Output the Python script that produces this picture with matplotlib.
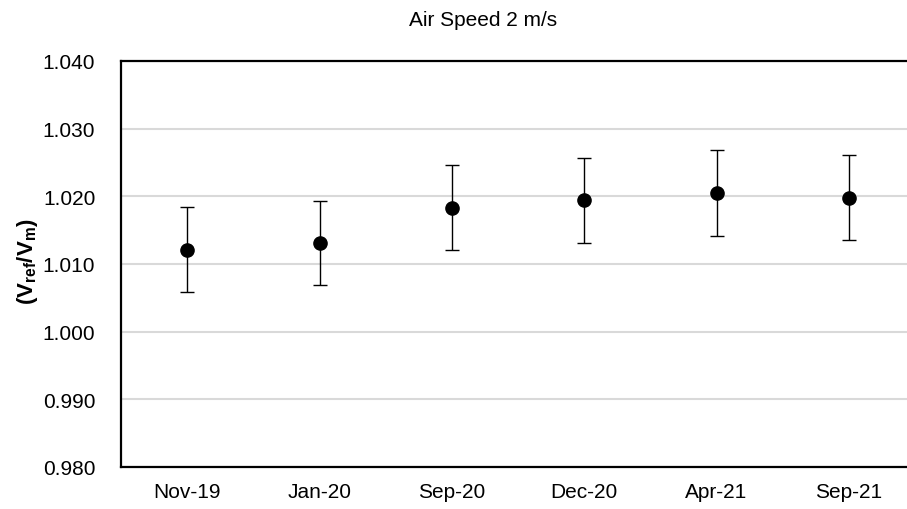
import matplotlib
matplotlib.use('Agg')
import matplotlib.pyplot as plt

plt.rcParams['font.family'] = ['Liberation Sans', 'DejaVu Sans']
plt.rcParams['mathtext.fontset'] = 'custom'
plt.rcParams['mathtext.rm'] = 'Liberation Sans'
plt.rcParams['mathtext.bf'] = 'Liberation Sans:bold'

# data
dates = ['Nov-19', 'Jan-20', 'Sep-20', 'Dec-20', 'Apr-21', 'Sep-21']
ratio = [1.0121, 1.0131, 1.0183, 1.0194, 1.0205, 1.0198]
uncert = [0.0063, 0.0062, 0.0063, 0.0063, 0.0063, 0.0063]
y_ticks = [0.980, 0.990, 1.000, 1.010, 1.020, 1.030, 1.040]

fig = plt.figure(figsize=(9.07, 5.10), dpi=100)
ax = fig.add_axes([121 / 907, 1 - 468 / 510, 794 / 907, 406 / 510])

x = list(range(len(dates)))
ax.errorbar(x, ratio, yerr=uncert, fmt='o', color='black', markersize=9.5,
            elinewidth=1.0, capsize=5, capthick=1.0, zorder=3)

ax.set_xlim(-0.5, len(dates) - 0.5)
ax.set_ylim(0.980, 1.040)
ax.set_yticks(y_ticks)
ax.set_yticklabels(['%.3f' % v for v in y_ticks])
ax.set_xticks(x)
ax.set_xticklabels(dates)
ax.tick_params(axis='both', length=0, labelsize=15, colors='black')
ax.tick_params(axis='y', pad=18.5)
ax.tick_params(axis='x', pad=11)

ax.grid(axis='y', color='#d9d9d9', linewidth=1.5, zorder=0)
ax.set_axisbelow(True)
ax.spines['right'].set_visible(False)
for s in ['left', 'bottom', 'top']:
    ax.spines[s].set_linewidth(1.6)
    ax.spines[s].set_color('black')

fig.text(27 / 907, 1 - 262 / 510, r'$\mathbf{(V_{ref}/V_{m})}$', rotation=90,
         ha='center', va='center', fontsize=16)
fig.text(483 / 907, 1 - 20 / 510, 'Air Speed 2 m/s', ha='center', va='center',
         fontsize=15)

fig.savefig('out.png', dpi=100)
